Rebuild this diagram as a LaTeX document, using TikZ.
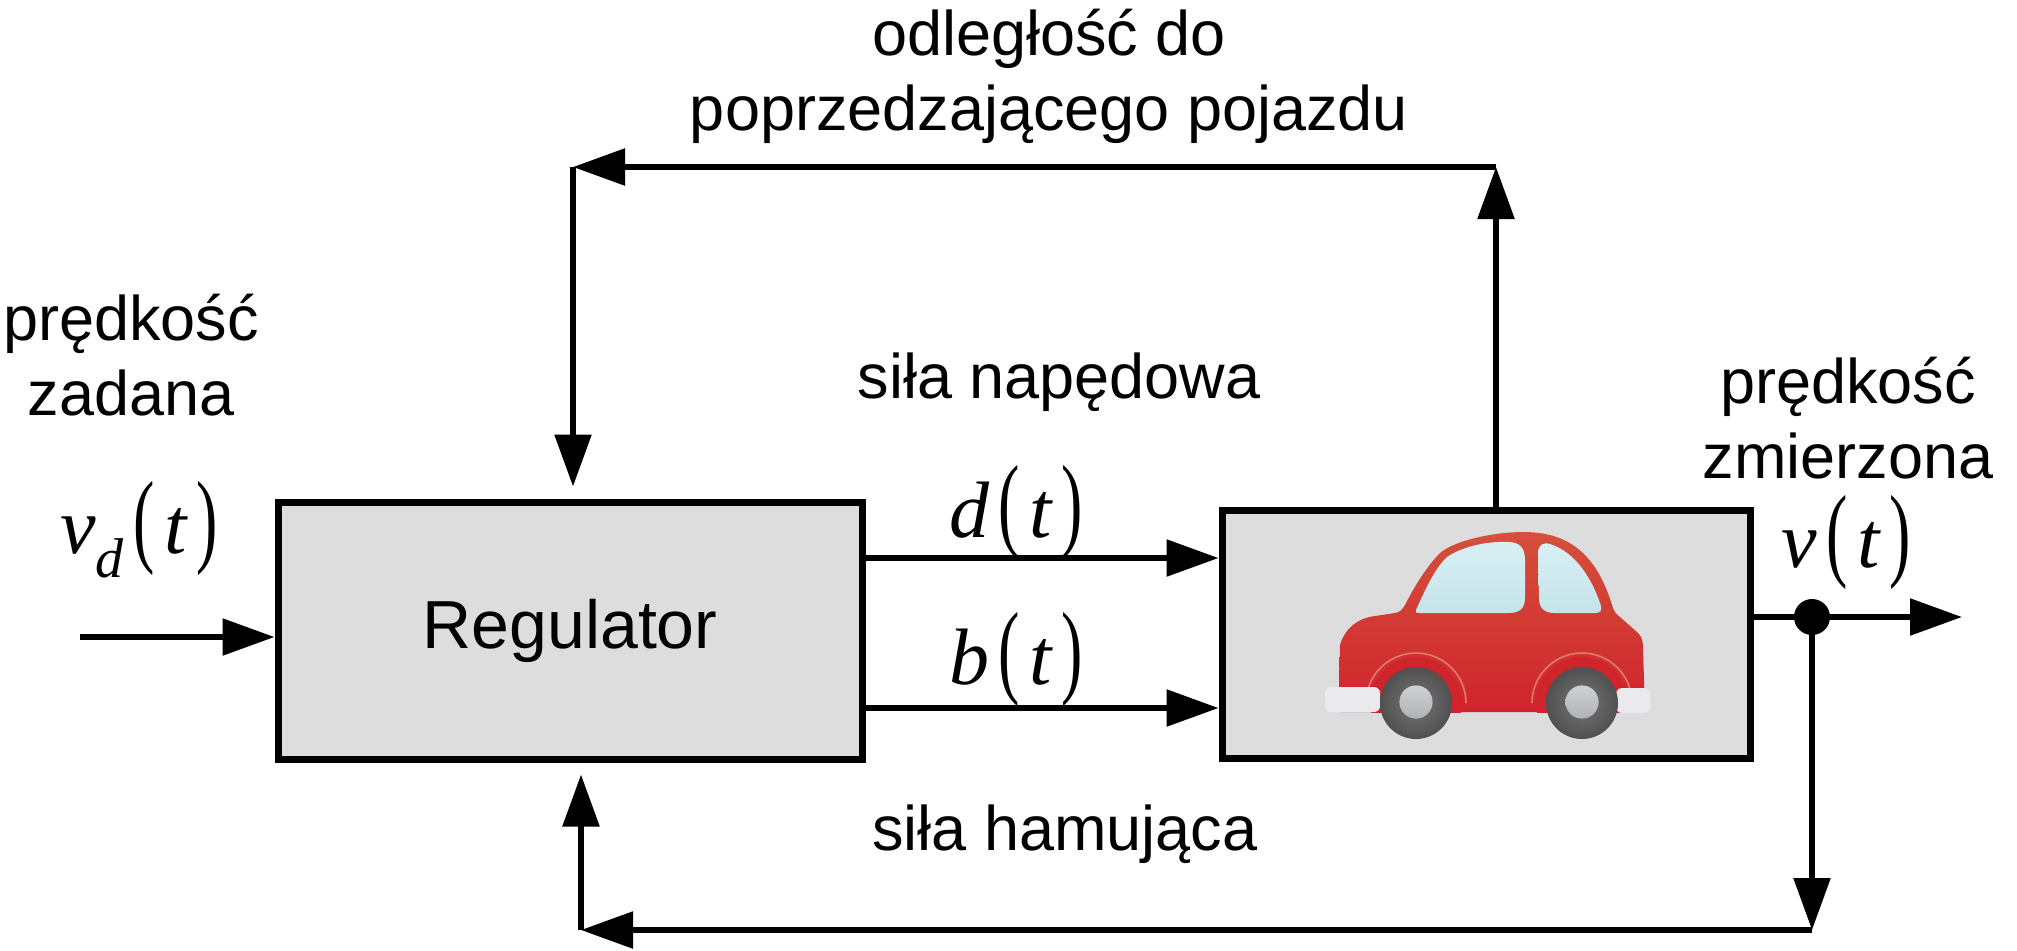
\documentclass[tikz,border=0pt]{standalone}
\usepackage{fontspec}
\usepackage{graphicx}
\setmainfont{Liberation Sans}
\newfontfamily\symfont{Liberation Serif}
\usetikzlibrary{arrows.meta,positioning,calc}
\definecolor{boxgray}{RGB}{221,221,221}
\definecolor{carred}{RGB}{212,80,60}
\definecolor{carreddk}{RGB}{208,36,44}
\definecolor{glass}{RGB}{196,228,234}
\definecolor{glasslt}{RGB}{216,240,244}
\definecolor{tyre}{RGB}{118,118,118}
\definecolor{tyredk}{RGB}{80,80,80}
\definecolor{hub}{RGB}{176,178,182}
\definecolor{bumper}{RGB}{234,234,238}

% signal name of time: #1(t)
\newcommand{\tsig}[1]{{\symfont\itshape #1}\hspace{0.12em}\scalebox{0.8}[1.3]{\symfont(}\hspace{0.12em}{\symfont\itshape t}\hspace{0.12em}\scalebox{0.8}[1.3]{\symfont)}}

\tikzset{
  blok/.style={draw,line width=3.5pt,fill=boxgray,inner sep=0pt},
  sig/.style={line width=2.8pt,-{Triangle[length=26pt,width=18pt]}},
  lbl/.style={font=\fontsize{31.5}{37.5}\selectfont,align=center,inner sep=0pt},
  mth/.style={font=\fontsize{40}{48}\selectfont,inner sep=0pt}
}

\begin{document}
\begin{tikzpicture}[x=0.5pt,y=-0.5pt]
\useasboundingbox (0,0) rectangle (2017,950);

\node[blok,minimum width=292pt,minimum height=128.5pt,font=\fontsize{34}{40}\selectfont] (reg) at (570,630.5) {Regulator};
\node[blok,minimum width=264pt,minimum height=124pt] (car) at (1486,634) {};

% the car
\shade[top color=carred,middle color=carred,bottom color=carreddk]
  (1339,690) -- (1340,645) .. controls (1345,628) and (1358,618) .. (1375,616) -- (1395,613)
  .. controls (1400,612) and (1402,610) .. (1405,605) .. controls (1415,585) and (1428,565) .. (1440,553)
  .. controls (1455,540) and (1495,532) .. (1523,532) .. controls (1565,532) and (1595,550) .. (1612,605)
  .. controls (1614,612) and (1616,614) .. (1620,617) -- (1638,633)
  .. controls (1642,637) and (1643,642) .. (1643,648) -- (1645,712) -- (1340,712) -- cycle;
\begin{scope}
  \clip (1300,500) rectangle (1660,712);
  \fill[carreddk] (1416,703) circle (23pt);
  \fill[carreddk] (1582,703) circle (23pt);
\end{scope}
\draw[carred!75!white,line width=0.8pt] (1366,703) arc[start angle=180,end angle=0,radius=25pt];
\draw[carred!75!white,line width=0.8pt] (1532,703) arc[start angle=180,end angle=0,radius=25pt];
\fill[bumper,rounded corners=3pt] (1325,687) rectangle (1380,712);
\fill[bumper,rounded corners=3pt] (1616,688) rectangle (1650,713);
\foreach \wx in {1416,1582} {
  \shade[inner color=tyre,outer color=tyredk] (\wx,703) circle (18pt);
  \shade[top color=hub!60!white,bottom color=hub] (\wx,702) circle (8.3pt);
}
\shade[top color=glasslt,bottom color=glass]
  (1416,610) .. controls (1425,590) and (1435,568) .. (1447,557)
  .. controls (1465,545) and (1490,541) .. (1510,542) .. controls (1520,543) and (1525,548) .. (1525,560)
  -- (1525,598) .. controls (1525,608) and (1520,613) .. (1508,613) -- (1420,613)
  .. controls (1416,613) and (1415,612) .. (1416,610) -- cycle;
\shade[top color=glasslt,bottom color=glass]
  (1538,553) .. controls (1538,545) and (1543,542) .. (1550,544)
  .. controls (1575,552) and (1592,578) .. (1601,606) .. controls (1602,611) and (1600,613) .. (1595,613)
  -- (1555,613) .. controls (1544,613) and (1539,608) .. (1539,598) -- cycle;

% labels
\node[lbl] (dist) at (1049,76) {odległość do\\poprzedzającego pojazdu};
\node[lbl] (vdtxt) at (131,355) {prędkość\\zadana};
\node[lbl] (drive) at (1059,382) {siła napędowa};
\node[lbl] (brake) at (1065,834) {siła hamująca};
\node[lbl] (vtxt) at (1848,418) {prędkość\\zmierzona};
\node[mth] (vd) at (139,530) {\tsig{v\raisebox{-0.3em}{\fontsize{28}{30}\selectfont d}}};
\node[mth] (dt) at (1016,512) {\tsig{d}};
\node[mth] (bt) at (1016,659) {\tsig{b}};
\node[mth] (vt) at (1846,542) {\tsig{v}};

% signals
\coordinate (vin) at (80,637);
\coordinate (dy) at (0,558);
\coordinate (by) at (0,708);
\coordinate (vout) at (1962,617);
\coordinate (br) at (1812,930);
\coordinate (bl) at (581,930);
\coordinate (tr) at (1496,167);
\coordinate (tl) at (573,167);
\node[circle,fill,inner sep=0pt,minimum size=18pt] (split) at (1812,617) {};

\draw[sig] (vin) -- (reg.west |- vin);
\draw[sig] (reg.east |- dy) -- (car.west |- dy);
\draw[sig] (reg.east |- by) -- (car.west |- by);
\draw[sig] (car.east |- vout) -- (vout);
\draw[sig] (split.center) -- (br);
\draw[sig] (br) -- (bl);
\draw[sig,shorten >=6pt] (bl) -- (bl |- reg.south);
\draw[sig] (tr |- car.north) -- (tr);
\draw[sig] (tr) -- (tl);
\draw[sig,shorten >=6pt] (tl) -- (tl |- reg.north);
\end{tikzpicture}
\end{document}
